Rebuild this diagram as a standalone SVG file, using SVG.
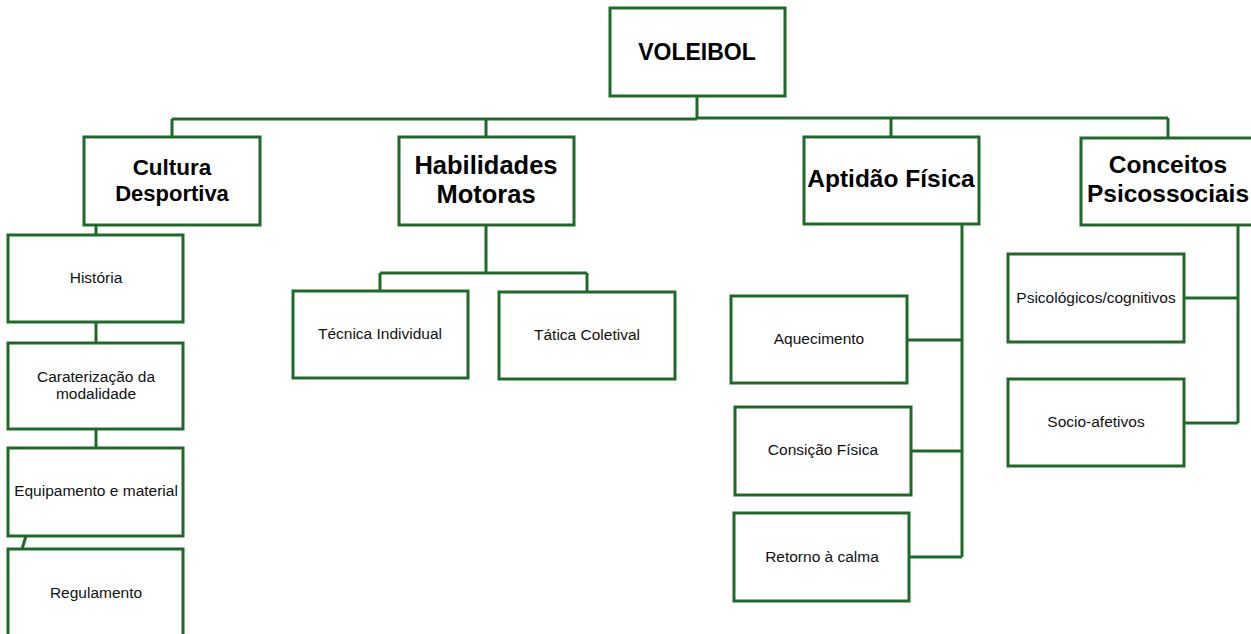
<svg xmlns="http://www.w3.org/2000/svg" width="1251" height="634" viewBox="0 0 1251 634">
<style>
.box{fill:#fff;stroke:#1f6a28;stroke-width:3}
.ln{fill:none;stroke:#1f6a28;stroke-width:3}
.t{font-family:"Liberation Sans",Arial,sans-serif;font-weight:bold;fill:#000;text-anchor:middle}
.s{font-family:"Liberation Sans",Arial,sans-serif;font-size:15.5px;fill:#111;text-anchor:middle}
</style>
<rect width="1251" height="634" fill="#fff"/>
<g id="connectors">
<path class="ln" d="M697,96 V119 M172,119 H697 M697,118 H1168 M172,119 V137 M486,119 V137 M891,118 V137 M1168,118 V138"/>
<path class="ln" d="M486,225 V273 M380,273 H587 M380,273 V291 M587,273 V292"/>
<path class="ln" d="M96,225 V235 M96,322 V343 M96,429 V448 M26,536 L22,549"/>
<path class="ln" d="M962,224 V557 M907,340 H962 M911,451 H962 M909,557 H962"/>
<path class="ln" d="M1238,225 V423 M1184,298 H1238 M1184,423 H1238"/>
</g>
<g id="voleibol"><rect class="box" x="610" y="8" width="175" height="88"/><text class="t" x="697" y="60" font-size="23">VOLEIBOL</text></g>
<g id="cultura"><rect class="box" x="84" y="137" width="176" height="88"/><text class="t" x="172" y="175" font-size="22.5">Cultura</text><text class="t" x="172" y="201" font-size="22">Desportiva</text></g>
<g id="habilidades"><rect class="box" x="399" y="137" width="175" height="88"/><text class="t" x="486" y="174" font-size="25.5">Habilidades</text><text class="t" x="486" y="203" font-size="25.5">Motoras</text></g>
<g id="aptidao"><rect class="box" x="804" y="137" width="175" height="87"/><text class="t" x="891" y="187" font-size="24.5">Aptidão Física</text></g>
<g id="conceitos"><rect class="box" x="1081" y="138" width="176" height="87"/><text class="t" x="1168" y="173" font-size="24.5">Conceitos</text><text class="t" x="1168" y="202" font-size="24.5">Psicossociais</text></g>
<g id="historia"><rect class="box" x="8" y="235" width="175" height="87"/><text class="s" x="96" y="283">História</text></g>
<g id="caraterizacao"><rect class="box" x="8" y="343" width="175" height="86"/><text class="s" x="96" y="382">Caraterização da</text><text class="s" x="96" y="399">modalidade</text></g>
<g id="equipamento"><rect class="box" x="8" y="448" width="175" height="88"/><text class="s" x="96" y="496">Equipamento e material</text></g>
<g id="regulamento"><rect class="box" x="8" y="549" width="175" height="92"/><text class="s" x="96" y="598">Regulamento</text></g>
<g id="tecnica"><rect class="box" x="293" y="291" width="175" height="87"/><text class="s" x="380" y="339">Técnica Individual</text></g>
<g id="tatica"><rect class="box" x="499" y="292" width="176" height="87"/><text class="s" x="587" y="340">Tática Coletival</text></g>
<g id="aquecimento"><rect class="box" x="731" y="296" width="176" height="87"/><text class="s" x="819" y="344">Aquecimento</text></g>
<g id="consicao"><rect class="box" x="735" y="407" width="176" height="88"/><text class="s" x="823" y="455">Consição Física</text></g>
<g id="retorno"><rect class="box" x="734" y="513" width="175" height="88"/><text class="s" x="822" y="562">Retorno à calma</text></g>
<g id="psicologicos"><rect class="box" x="1008" y="254" width="176" height="88"/><text class="s" x="1096" y="303">Psicológicos/cognitivos</text></g>
<g id="socio"><rect class="box" x="1008" y="379" width="176" height="87"/><text class="s" x="1096" y="427">Socio-afetivos</text></g>
</svg>
